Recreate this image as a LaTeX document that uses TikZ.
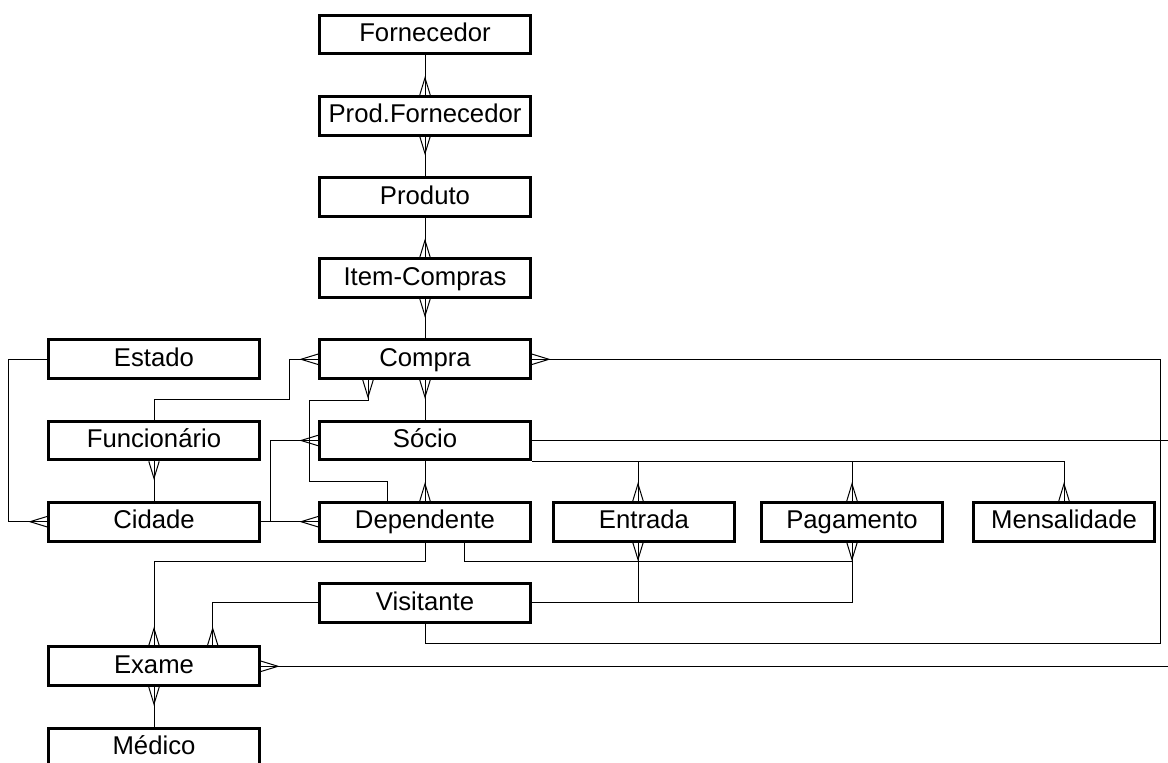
\documentclass[tikz,border=0pt]{standalone}
\usepackage{fontspec}
\setmainfont{Liberation Sans}
\usepackage{tikz}
\usetikzlibrary{arrows.meta, positioning, calc}
\newcommand{\entfont}{\fontsize{12.85}{15}\selectfont}
% crow's foot: two prongs opening toward the entity, line runs through
\pgfdeclarearrow{
  name = Crow,
  defaults = {length = 8.5pt, width = 5.2pt},
  parameters = {\the\pgfarrowlength,\the\pgfarrowwidth},
  setup code = {
    \pgfarrowssettipend{0pt}
    \pgfarrowssetlineend{0pt}
    \pgfarrowssetbackend{-\pgfarrowlength}
    \pgfarrowssavethe\pgfarrowlength
    \pgfarrowssavethe\pgfarrowwidth
  },
  drawing code = {
    \pgfpathmoveto{\pgfqpoint{0pt}{.5\pgfarrowwidth}}
    \pgfpathlineto{\pgfqpoint{-\pgfarrowlength}{0pt}}
    \pgfpathlineto{\pgfqpoint{0pt}{-.5\pgfarrowwidth}}
    \pgfusepathqstroke
  }
}
\tikzset{
  ent/.style={rectangle, draw=black, line width=1.5pt, fill=white,
    minimum width=105.5pt, minimum height=19.35pt, inner sep=0pt,
    text height=0.93em, text depth=0.21em, font=\entfont},
  sent/.style={ent, minimum width=90.5pt},
  rel/.style={draw=black, line width=0.5pt}
}
\begin{document}
\begin{tikzpicture}[x=0.5pt, y=-0.5pt, node distance=19.75pt and 10pt]
  \useasboundingbox (0,0) rectangle (1168,763);
  \clip (0,0) rectangle (1168,763);

  % central column
  \node[ent] (forn) at (425,34.5) {Fornecedor};
  \node[ent, below=of forn] (prodforn) {Prod.Fornecedor};
  \node[ent, below=of prodforn] (produto) {Produto};
  \node[ent, below=of produto] (itemc) {Item-Compras};
  \node[ent, below=of itemc] (compra) {Compra};
  \node[ent, below=of compra] (socio) {Sócio};
  \node[ent, below=of socio] (dep) {Dependente};
  \node[ent, below=of dep] (visit) {Visitante};

  % left column
  \node[ent, left=28.5pt of compra] (estado) {Estado};
  \node[ent, below=of estado] (func) {Funcionário};
  \node[ent, below=of func] (cidade) {Cidade};
  \node[ent] (exame) at (154,666.3) {Exame};
  \node[ent, below=of exame] (medico) {Médico};

  % right row
  \node[sent, right=10pt of dep] (entrada) {Entrada};
  \node[sent, right=12pt of entrada] (pag) {Pagamento};
  \node[sent, right=14pt of pag] (mensal) {Mensalidade};

  \coordinate (edge) at (1168,0);
  \coordinate (ebus) at ($(dep.south -| entrada.south)+(-6,19.3)$);

  % products and purchases
  \draw[rel,-Crow] (forn) -- (prodforn);
  \draw[rel,Crow-] (prodforn) -- (produto);
  \draw[rel,-Crow] (produto) -- (itemc);
  \draw[rel,Crow-] (itemc) -- (compra);
  \draw[rel,Crow-] (compra) -- (socio);
  \draw[rel,-Crow] (socio) -- (dep);

  % left side
  \draw[rel,-Crow] (estado.west) -- ++(-38.4,0) |- (cidade.west);
  \draw[rel,Crow-] (func) -- (cidade);
  \draw[rel,-Crow] (cidade) -- (dep);
  \draw[rel,-Crow] ($(cidade.east)+(9,0)$) |- (socio.west);
  \draw[rel,-Crow] (func.north) -- ++(0,-20) -| ($(compra.west)+(-29,0)$) -- (compra.west);
  \draw[rel,-Crow] ($(dep.north)+(-38,0)$) -- ++(0,-19.5) -- ++(-78,0)
    |- ($(compra.south)+(-57,20)$) -- ($(compra.south)+(-57,0)$);

  % exams
  \draw[rel,-Crow] (dep.south) -- ++(0,19.3) -| (exame.north);
  \draw[rel,-Crow] (visit.west) -| ($(exame.north)+(58.7,0)$);
  \draw[rel,Crow-] (exame) -- (medico);
  \draw[rel,Crow-] (exame.east) -- (exame.east -| edge);

  % socio to payments
  \draw[rel,-Crow] (socio.south east) -| (mensal.north);
  \draw[rel,-Crow] (socio.south east -| pag.north) -- (pag.north);
  \draw[rel,-Crow] (socio.south east -| ebus) -- (entrada.north -| ebus);
  \draw[rel] (socio.east) -- (socio.east -| edge);

  % dependente and visitante to payments
  \draw[rel,-Crow] ($(dep.south)+(39,0)$) -- ++(0,19.3) -| (pag.south);
  \draw[rel,-Crow] (ebus) -- (ebus |- entrada.south);
  \draw[rel] (visit.east) -| (pag.south |- ebus);
  \draw[rel] (ebus |- visit.east) -- (ebus);

  % visitante to compra
  \draw[rel,-Crow] (visit.south) -- ++(0,20) -| ($(compra.east)+(628,0)$) -- (compra.east);
\end{tikzpicture}
\end{document}
